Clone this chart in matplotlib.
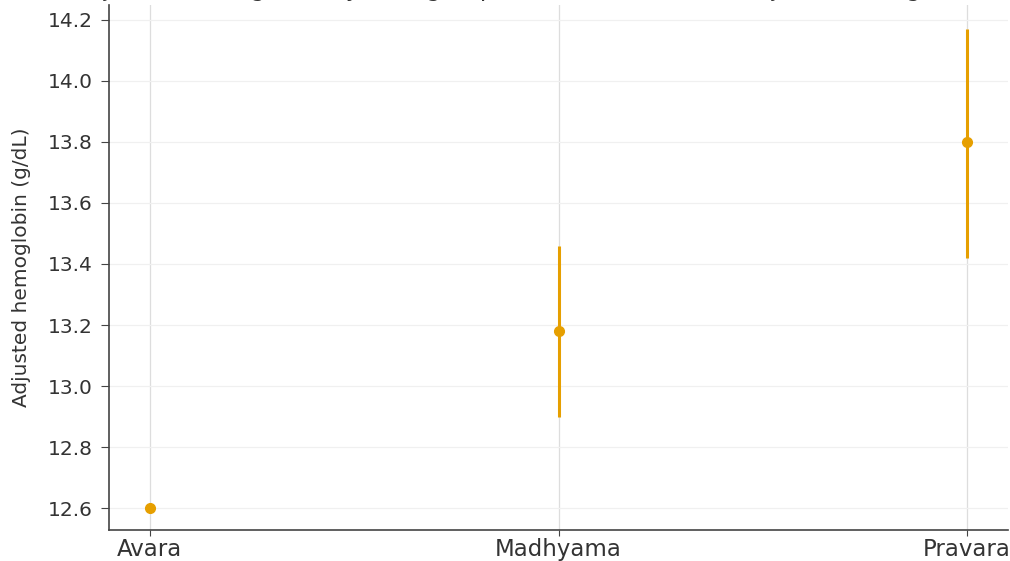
import matplotlib
matplotlib.use("Agg")
import matplotlib.pyplot as plt

# adjusted means with 95% CI per group (Avara is the reference level)
groups = ["Avara", "Madhyama", "Pravara"]
adj_mean = [12.60, 13.18, 13.80]
ci_low = [12.60, 12.90, 13.42]
ci_high = [12.60, 13.46, 14.17]

ORANGE = "#E69F00"
TEXT = "#333333"

plt.rcParams.update({
    "font.family": "DejaVu Sans",
    "axes.edgecolor": "#444444",
    "xtick.color": "#444444", "ytick.color": "#444444",
    "xtick.labelcolor": TEXT, "ytick.labelcolor": TEXT,
})

fig = plt.figure(figsize=(10.1, 5.61), dpi=100)
ax = fig.add_axes([109 / 1010, 31 / 561, 899 / 1010, 525 / 561])

x = list(range(len(groups)))
yerr = [[m - lo for m, lo in zip(adj_mean, ci_low)],
        [hi - m for m, hi in zip(adj_mean, ci_high)]]
ax.errorbar(x, adj_mean, yerr=yerr, fmt="o", color=ORANGE, ecolor=ORANGE,
            elinewidth=2.2, markersize=7, capsize=0, zorder=3)

ax.set_xticks(x)
ax.set_xticklabels(groups)
ax.set_xlim(-0.1, 2.1)
ax.set_ylim(12.528, 14.249)
ax.set_yticks([12.6, 12.8, 13.0, 13.2, 13.4, 13.6, 13.8, 14.0, 14.2])
ax.tick_params(axis="y", labelsize=14.5, length=5.5, width=0.8, pad=6)
ax.tick_params(axis="x", labelsize=16.5, length=4, width=0.8, pad=2)
ax.set_ylabel("Adjusted hemoglobin (g/dL)", fontsize=14.5, color=TEXT, labelpad=12)
ax.grid(axis="x", color="#dddddd", lw=0.9, zorder=0)
ax.grid(axis="y", color="#f0f0f0", lw=0.9, zorder=0)
ax.set_axisbelow(True)
for s in ("top", "right"):
    ax.spines[s].set_visible(False)
ax.spines["left"].set_linewidth(1.2)
ax.spines["bottom"].set_linewidth(1.2)

ax.set_title("Adjusted hemoglobin by Bala group (mean with 95% CI, adjusted for age and sex)",
             fontsize=17, color=TEXT, pad=6.5)

fig.savefig("out.png", dpi=100)
